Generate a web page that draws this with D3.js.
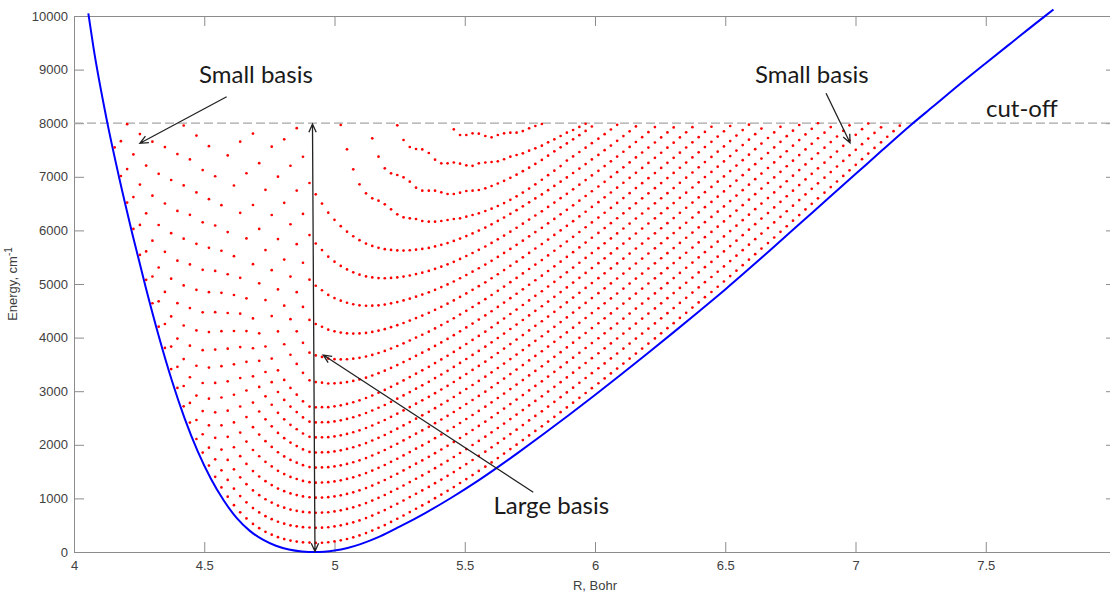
<!DOCTYPE html>
<html>
<head>
<meta charset="utf-8">
<script src="https://cdn.jsdelivr.net/npm/d3@7"></script>
<style>
  body { margin: 0; background: #fff; }
  svg text { font-family: "Liberation Sans", Arial, sans-serif; }
</style>
</head>
<body>
<div id="chart"></div>
<script>
// potential curve
const potR = [4.055, 4.075, 4.125, 4.175, 4.225, 4.275, 4.325, 4.375, 4.425, 4.475, 4.525, 4.575, 4.625, 4.675, 4.725, 4.775, 4.825, 4.875, 4.925,
  4.96, 5.0, 5.05, 5.1, 5.175, 5.25, 5.35, 5.45, 5.55, 5.623, 5.7, 5.8, 5.9, 6.0, 6.1, 6.2, 6.3, 6.4, 6.5, 6.6, 6.7, 6.8, 6.9, 7.0, 7.1, 7.216, 7.3, 7.4, 7.5, 7.6, 7.731, 7.76];
const potE = [10050, 9405, 8080, 6948, 5916, 4944, 4034, 3209, 2489, 1877, 1372, 960, 632, 394, 229, 117, 47, 11, 0,
  6, 27, 75, 147, 290, 472, 732, 1017, 1327, 1570, 1836, 2191, 2556, 2930, 3310, 3698, 4093, 4493, 4898, 5320, 5752, 6185, 6618, 7050, 7484, 7981, 8320, 8727, 9120, 9507, 10011, 10120];

// R grid of the basis (one column of dots per grid point)
const gridR = [4.156, 4.180, 4.204, 4.228, 4.253, 4.277, 4.301, 4.325, 4.349, 4.373,
  4.397, 4.421, 4.445, 4.470, 4.494, 4.518, 4.542, 4.566, 4.590, 4.614,
  4.638, 4.662, 4.687, 4.711, 4.735, 4.759, 4.783, 4.807, 4.831, 4.855,
  4.879, 4.904, 4.928, 4.952, 4.976, 5.000, 5.024, 5.048, 5.072, 5.096,
  5.121, 5.145, 5.169, 5.193, 5.217, 5.241, 5.265, 5.289, 5.313, 5.337,
  5.362, 5.386, 5.410, 5.434, 5.458, 5.482, 5.506, 5.530, 5.554, 5.579,
  5.603, 5.627, 5.651, 5.675, 5.699, 5.723, 5.747, 5.771, 5.796, 5.820,
  5.844, 5.868, 5.892, 5.916, 5.940, 5.964, 5.988, 6.013, 6.037, 6.061,
  6.085, 6.109, 6.133, 6.157, 6.181, 6.205, 6.230, 6.254, 6.278, 6.302,
  6.326, 6.350, 6.374, 6.398, 6.422, 6.447, 6.471, 6.495, 6.519, 6.543,
  6.567, 6.591, 6.615, 6.639, 6.664, 6.688, 6.712, 6.736, 6.760, 6.784,
  6.808, 6.832, 6.856, 6.881, 6.905, 6.929, 6.953, 6.977, 7.001, 7.025,
  7.049, 7.073, 7.098, 7.122, 7.146, 7.170];

// energy levels: first grid column of each level, then its energies column by column
const levelStart = [0, 1, 2, 4, 6, 8, 10, 11, 13, 15, 18, 20, 22, 25, 27, 29, 36, 41, 45, 54];

const level0 = [7548, 7015, 6519, 6028, 5542, 5078, 4641, 4204, 3808, 3412,
  3062, 2717, 2414, 2108, 1855, 1613, 1402, 1204, 1032, 874,
  740, 626, 524, 445, 377, 323, 276, 242, 213, 195,
  180, 175, 170, 173, 182, 197, 217, 243, 274, 310,
  353, 400, 451, 503, 562, 620, 681, 744, 807, 869,
  935, 1004, 1072, 1141, 1212, 1287, 1361, 1436, 1512, 1591,
  1672, 1753, 1836, 1920, 2003, 2088, 2174, 2259, 2345, 2433,
  2521, 2609, 2697, 2786, 2876, 2966, 3057, 3148, 3239, 3331,
  3423, 3515, 3608, 3702, 3795, 3889, 3985, 4080, 4175, 4270,
  4367, 4463, 4560, 4656, 4754, 4851, 4949, 5047, 5147, 5249,
  5351, 5453, 5556, 5660, 5764, 5868, 5973, 6077, 6181, 6286,
  6391, 6495, 6599, 6704, 6808, 6912, 7017, 7121, 7224, 7329,
  7434, 7539, 7643, 7747, 7851, 7954];
const level1 = [7665, 7144, 6622, 6103, 5608, 5140, 4676, 4254, 3832, 3455, 3097, 2781, 2463, 2197, 1947, 1729, 1524, 1345, 1182, 1044,
  926, 820, 739, 669, 613, 564, 529, 498, 479, 463, 457, 451, 454, 462,
  477, 497, 523, 554, 590, 633, 680, 731, 783, 842,
  900, 961, 1024, 1087, 1149, 1215, 1284, 1352, 1421, 1492,
  1567, 1641, 1716, 1792, 1871, 1952, 2033, 2116, 2200, 2283,
  2368, 2454, 2539, 2625, 2713, 2801, 2889, 2977, 3066, 3156,
  3246, 3337, 3428, 3519, 3611, 3703, 3795, 3888, 3982, 4075,
  4169, 4265, 4360, 4455, 4550, 4647, 4743, 4840, 4936, 5034,
  5131, 5229, 5327, 5427, 5529, 5631, 5733, 5836, 5940, 6044,
  6148, 6253, 6357, 6461, 6566, 6671, 6775, 6879, 6984, 7088,
  7192, 7297, 7401, 7504, 7609, 7714, 7819, 7923];
const level2 = [7982, 7418, 6855, 6318, 5809, 5308, 4852, 4395, 3982, 3600, 3260, 2919, 2630, 2363, 2130, 1910, 1717, 1542, 1394, 1265,
  1149, 1060, 984, 922, 866, 827, 791, 768, 748, 739, 732, 735, 742,
  757, 777, 803, 834, 870, 913, 960, 1011, 1063, 1122,
  1180, 1241, 1304, 1367, 1429, 1495, 1564, 1632, 1701, 1772,
  1847, 1921, 1996, 2072, 2151, 2232, 2313, 2396, 2480, 2563,
  2648, 2734, 2819, 2905, 2993, 3081, 3169, 3257, 3346, 3436,
  3526, 3617, 3708, 3799, 3891, 3983, 4075, 4168, 4262, 4355,
  4449, 4545, 4640, 4735, 4830, 4927, 5023, 5120, 5216, 5314,
  5411, 5509, 5607, 5707, 5809, 5911, 6013, 6116, 6220, 6324,
  6428, 6533, 6637, 6741, 6846, 6951, 7055, 7159, 7264, 7368,
  7472, 7577, 7681, 7784, 7889, 7994];
const level3 = [7797, 7209, 6647, 6101, 5601, 5100, 4642, 4226, 3850, 3475, 3153, 2861, 2605, 2363, 2148, 1954, 1788, 1643, 1509, 1409,
  1322, 1249, 1183, 1135, 1092, 1062, 1036, 1021, 1013, 1016, 1022,
  1037, 1057, 1083, 1114, 1150, 1193, 1240, 1291, 1343, 1402,
  1460, 1521, 1584, 1647, 1709, 1775, 1844, 1912, 1981, 2052,
  2127, 2201, 2276, 2352, 2431, 2512, 2593, 2676, 2760, 2843,
  2928, 3014, 3099, 3185, 3273, 3361, 3449, 3537, 3626, 3716,
  3806, 3897, 3988, 4079, 4171, 4263, 4355, 4448, 4542, 4635,
  4729, 4825, 4920, 5015, 5110, 5207, 5303, 5400, 5496, 5594,
  5691, 5789, 5887, 5987, 6089, 6191, 6293, 6396, 6500, 6604,
  6708, 6813, 6917, 7021, 7126, 7231, 7335, 7439, 7544, 7648,
  7752, 7857, 7961];
const level4 = [7655, 7055, 6502, 5949, 5436, 4974, 4551, 4133, 3766, 3441, 3154, 2882, 2637, 2418, 2229, 2061, 1903, 1786, 1683, 1596,
  1515, 1454, 1400, 1362, 1326, 1303, 1294, 1297, 1302,
  1317, 1337, 1363, 1394, 1430, 1473, 1520, 1571, 1623, 1682,
  1740, 1801, 1864, 1927, 1989, 2055, 2124, 2192, 2261, 2332,
  2407, 2481, 2556, 2632, 2711, 2792, 2873, 2956, 3040, 3123,
  3208, 3294, 3379, 3465, 3553, 3641, 3729, 3817, 3906, 3996,
  4086, 4177, 4268, 4359, 4451, 4543, 4635, 4728, 4822, 4915,
  5009, 5105, 5200, 5295, 5390, 5487, 5583, 5680, 5776, 5874,
  5971, 6069, 6167, 6267, 6369, 6471, 6573, 6676, 6780, 6884,
  6988, 7093, 7197, 7301, 7406, 7511, 7615, 7719, 7824, 7928];
const level5 = [7554, 6940, 6363, 5845, 5365, 4891, 4471, 4103, 3777, 3467, 3185, 2934, 2715, 2517, 2328, 2190, 2068, 1960, 1861, 1784,
  1717, 1666, 1619, 1585, 1575, 1578, 1582,
  1597, 1617, 1643, 1674, 1710, 1753, 1800, 1851, 1903, 1962,
  2020, 2081, 2144, 2207, 2269, 2335, 2404, 2472, 2541, 2612,
  2687, 2761, 2836, 2912, 2991, 3072, 3153, 3236, 3320, 3403,
  3488, 3574, 3659, 3745, 3833, 3921, 4009, 4097, 4186, 4276,
  4366, 4457, 4548, 4639, 4731, 4823, 4915, 5008, 5102, 5195,
  5289, 5385, 5480, 5575, 5670, 5767, 5863, 5960, 6056, 6154,
  6251, 6349, 6447, 6547, 6649, 6751, 6853, 6956, 7060, 7164,
  7268, 7373, 7477, 7581, 7686, 7791, 7895, 7999];
const level6 = [7424, 6840, 6290, 5750, 5265, 4847, 4474, 4119, 3793, 3502, 3246, 3013, 2787, 2621, 2475, 2344, 2221, 2124, 2041, 1976,
  1914, 1867, 1856, 1859, 1862,
  1877, 1897, 1923, 1954, 1990, 2033, 2080, 2131, 2183, 2242,
  2300, 2361, 2424, 2487, 2549, 2615, 2684, 2752, 2821, 2892,
  2967, 3041, 3116, 3192, 3271, 3352, 3433, 3516, 3600, 3683,
  3768, 3854, 3939, 4025, 4113, 4201, 4289, 4377, 4466, 4556,
  4646, 4737, 4828, 4919, 5011, 5103, 5195, 5288, 5382, 5475,
  5569, 5665, 5760, 5855, 5950, 6047, 6143, 6240, 6336, 6434,
  6531, 6629, 6727, 6827, 6929, 7031, 7133, 7236, 7340, 7444,
  7548, 7653, 7757, 7861, 7966];
const level7 = [7957, 7324, 6709, 6151, 5674, 5244, 4836, 4459, 4123, 3823, 3548, 3277, 3080, 2905, 2747, 2596, 2475, 2373, 2290, 2211,
  2149, 2137, 2140, 2142,
  2157, 2177, 2203, 2234, 2270, 2313, 2360, 2411, 2463, 2522,
  2580, 2641, 2704, 2767, 2829, 2895, 2964, 3032, 3101, 3172,
  3247, 3321, 3396, 3472, 3551, 3632, 3713, 3796, 3880, 3963,
  4048, 4134, 4219, 4305, 4393, 4481, 4569, 4657, 4746, 4836,
  4926, 5017, 5108, 5199, 5291, 5383, 5475, 5568, 5662, 5755,
  5849, 5945, 6040, 6135, 6230, 6327, 6423, 6520, 6616, 6714,
  6811, 6909, 7007, 7107, 7209, 7311, 7413, 7516, 7620, 7724,
  7828, 7933];
const level8 = [7770, 7125, 6583, 6091, 5620, 5182, 4795, 4446, 4121, 3801, 3567, 3358, 3168, 2985, 2837, 2713, 2610, 2511, 2431, 2418,
  2421, 2422,
  2437, 2457, 2483, 2514, 2550, 2593, 2640, 2691, 2743, 2802,
  2860, 2921, 2984, 3047, 3109, 3175, 3244, 3312, 3381, 3452,
  3527, 3601, 3676, 3752, 3831, 3912, 3993, 4076, 4160, 4243,
  4328, 4414, 4499, 4585, 4673, 4761, 4849, 4937, 5026, 5116,
  5206, 5297, 5388, 5479, 5571, 5663, 5755, 5848, 5942, 6035,
  6129, 6225, 6320, 6415, 6510, 6607, 6703, 6800, 6896, 6994,
  7091, 7189, 7287, 7387, 7489, 7591, 7693, 7796, 7900];
const level9 = [7572, 7010, 6471, 5968, 5519, 5115, 4733, 4357, 4079, 3834, 3609, 3389, 3210, 3061, 2935, 2812, 2713, 2699, 2702, 2702,
  2717, 2737, 2763, 2794, 2830, 2873, 2920, 2971, 3023, 3082,
  3140, 3201, 3264, 3327, 3389, 3455, 3524, 3592, 3661, 3732,
  3807, 3881, 3956, 4032, 4111, 4192, 4273, 4356, 4440, 4523,
  4608, 4694, 4779, 4865, 4953, 5041, 5129, 5217, 5306, 5396,
  5486, 5577, 5668, 5759, 5851, 5943, 6035, 6128, 6222, 6315,
  6409, 6505, 6600, 6695, 6790, 6887, 6983, 7080, 7176, 7274,
  7371, 7469, 7567, 7667, 7769, 7871, 7973];
const level10 = [7398, 6838, 6327, 5851, 5369, 5013, 4700, 4402, 4116, 3876, 3680, 3508, 3343, 3202, 3171, 3159, 3144,
  3147, 3155, 3171, 3192, 3219, 3253, 3293, 3336, 3382, 3435,
  3487, 3543, 3601, 3660, 3718, 3780, 3845, 3910, 3976, 4045,
  4117, 4189, 4262, 4336, 4413, 4492, 4572, 4653, 4736, 4818,
  4901, 4986, 5070, 5156, 5243, 5330, 5417, 5505, 5593, 5683,
  5772, 5863, 5953, 6044, 6135, 6227, 6319, 6411, 6505, 6598,
  6692, 6787, 6882, 6977, 7072, 7169, 7265, 7362, 7457, 7555,
  7652, 7750, 7848, 7948];
const level11 = [7655, 7066, 6474, 6028, 5633, 5257, 4898, 4595, 4344, 4118, 3903, 3718, 3668, 3640, 3609,
  3597, 3592, 3596, 3606, 3622, 3647, 3677, 3713, 3751, 3797,
  3843, 3893, 3946, 4000, 4053, 4111, 4172, 4234, 4296, 4361,
  4431, 4500, 4571, 4643, 4717, 4795, 4873, 4952, 5034, 5114,
  5197, 5280, 5363, 5447, 5534, 5620, 5707, 5793, 5881, 5970,
  6059, 6149, 6239, 6329, 6420, 6512, 6603, 6695, 6789, 6881,
  6975, 7070, 7165, 7260, 7354, 7451, 7547, 7643, 7739, 7837,
  7934];
const level12 = [7806, 7254, 6757, 6287, 5839, 5456, 5138, 4848, 4572, 4330, 4254, 4202, 4148,
  4117, 4094, 4080, 4075, 4077, 4087, 4106, 4130, 4158, 4194,
  4231, 4272, 4317, 4364, 4411, 4462, 4519, 4575, 4633, 4694,
  4759, 4825, 4892, 4960, 5032, 5107, 5182, 5260, 5339, 5417,
  5498, 5580, 5662, 5744, 5829, 5915, 6000, 6086, 6172, 6260,
  6348, 6438, 6527, 6617, 6707, 6798, 6889, 6981, 7074, 7166,
  7259, 7354, 7449, 7543, 7637, 7734, 7829, 7926];
const level13 = [7562, 7003, 6515, 6115, 5743, 5396, 5080, 4967, 4883, 4797,
  4737, 4688, 4650, 4622, 4603, 4594, 4595, 4603, 4616, 4639,
  4663, 4693, 4727, 4764, 4802, 4844, 4892, 4942, 4993, 5047,
  5107, 5168, 5230, 5294, 5362, 5433, 5505, 5579, 5655, 5730,
  5809, 5889, 5968, 6048, 6132, 6215, 6299, 6383, 6468, 6555,
  6642, 6730, 6819, 6907, 6997, 7087, 7177, 7269, 7361, 7453,
  7545, 7640, 7734, 7828, 7922];
const level14 = [7700, 7206, 6743, 6307, 5913, 5756, 5633, 5510,
  5417, 5337, 5271, 5217, 5174, 5141, 5122, 5111, 5107, 5113,
  5122, 5138, 5159, 5185, 5212, 5244, 5283, 5324, 5367, 5414,
  5468, 5522, 5578, 5637, 5700, 5766, 5834, 5904, 5977, 6049,
  6125, 6202, 6278, 6356, 6438, 6519, 6601, 6683, 6767, 6853,
  6938, 7025, 7112, 7200, 7289, 7378, 7467, 7558, 7649, 7740,
  7832, 7927];
const level15 = [7908, 7374, 6884, 6673, 6501, 6331,
  6197, 6078, 5977, 5891, 5817, 5755, 5711, 5675, 5650, 5635,
  5626, 5624, 5630, 5641, 5654, 5673, 5701, 5731, 5764, 5803,
  5848, 5894, 5944, 5996, 6052, 6113, 6176, 6241, 6310, 6378,
  6449, 6523, 6597, 6672, 6750, 6829, 6909, 6989, 7071, 7154,
  7238, 7324, 7409, 7496, 7583, 7671, 7760, 7849, 7940];
const level16 = [7966, 7513, 7140, 6860, 6692, 6598, 6554, 6487, 6394, 6300, 6244, 6226, 6213, 6175, 6163, 6163, 6175, 6194, 6213, 6226,
  6256, 6287, 6319, 6362, 6405, 6455, 6510, 6570, 6635, 6705, 6780, 6860, 6945, 7030, 7115, 7200,
  7302, 7381, 7463, 7544, 7628, 7712, 7796, 7882, 7969];
const level17 = [7718, 7375, 7159, 7065, 7034, 6991, 6909, 6797, 6741, 6741, 6741, 6711, 6679, 6679, 6703, 6735, 6741, 6754, 6785, 6828,
  6875, 6925, 6980, 7040, 7105, 7170, 7240, 7315, 7395, 7476, 7549, 7623, 7699, 7777, 7856, 7938];
const level18 = [7960, 7687, 7556, 7519, 7510, 7444, 7320, 7252, 7252, 7267, 7245, 7214,
  7205, 7252, 7267, 7276, 7289, 7327, 7375, 7407, 7438, 7487, 7532, 7580, 7644, 7700,
  7761, 7823, 7873, 7930, 7990];
const level19 = [7886, 7780, 7780, 7811, 7805, 7761, 7736, 7780, 7811, 7823, 7823, 7854, 7904, 7948, 7985];

const levels = [level0, level1, level2, level3, level4, level5, level6, level7, level8, level9,
  level10, level11, level12, level13, level14, level15, level16, level17, level18, level19];

const xTicks = [4, 4.5, 5, 5.5, 6, 6.5, 7, 7.5];
const yTicks = [0, 1000, 2000, 3000, 4000, 5000, 6000, 7000, 8000, 9000, 10000];
const cutOff = 8000;

// flat list of dots for d3
const dots = [];
levels.forEach(function(lv, n) {
  lv.forEach(function(e, i) {
    const r = gridR[levelStart[n] + i];
    if (r !== undefined) dots.push({ r: r, e: e });
  });
});

const margin = { top: 16, right: -6, bottom: 40, left: 74 },
    width = 1110 - margin.left - margin.right,
    height = 592 - margin.top - margin.bottom;

const svg = d3.select("#chart")
  .append("svg")
    .attr("width", 1110)
    .attr("height", 592);

const g = svg.append("g")
    .attr("transform", `translate(${margin.left}, ${margin.top})`);

const x = d3.scaleLinear().domain([4, 8]).range([0, width]);
const y = d3.scaleLinear().domain([0, 10000]).range([height, 0]);

const axisCol = "#8c8c8c", textCol = "#404040";

// box + inward ticks on all four sides, matlab style
g.append("g")
    .attr("transform", `translate(0, ${height})`)
    .call(d3.axisBottom(x).tickValues(xTicks).tickFormat(d3.format("")).tickSizeInner(-10).tickSizeOuter(0).tickPadding(9));
g.append("g")
    .call(d3.axisTop(x).tickValues(xTicks).tickFormat("").tickSizeInner(-10).tickSizeOuter(0));
g.append("g")
    .call(d3.axisLeft(y).tickValues(yTicks).tickFormat(d3.format("")).tickSizeInner(-10).tickSizeOuter(0).tickPadding(6));
g.append("g")
    .attr("transform", `translate(${width}, 0)`)
    .call(d3.axisRight(y).tickValues(yTicks).tickFormat("").tickSizeInner(-10).tickSizeOuter(0));

g.selectAll(".domain").attr("stroke", axisCol);
g.selectAll(".tick line").attr("stroke", axisCol);
g.selectAll(".tick text").attr("fill", textCol).style("font-size", "13px");

// axis titles
svg.append("text")
    .attr("x", margin.left + x(6))
    .attr("y", 590)
    .attr("text-anchor", "middle")
    .attr("fill", textCol)
    .style("font-size", "13px")
    .text("R, Bohr");

const ylab = svg.append("text")
    .attr("transform", `translate(17, ${margin.top + height / 2}) rotate(-90)`)
    .attr("text-anchor", "middle")
    .attr("fill", textCol)
    .style("font-size", "13px");
ylab.append("tspan").text("Energy, cm");
ylab.append("tspan").attr("dy", -5).style("font-size", "10px").text("-1");

// cut-off line
g.append("line")
    .attr("x1", 0).attr("x2", width)
    .attr("y1", y(cutOff)).attr("y2", y(cutOff))
    .attr("stroke", "#a6a6a6")
    .attr("stroke-width", 1.2)
    .attr("stroke-dasharray", "9,4");

// potential
const pot = potR.map((r, i) => [r, potE[i]]);
g.append("path")
    .datum(pot)
    .attr("fill", "none")
    .attr("stroke", "#0000ff")
    .attr("stroke-width", 2)
    .attr("d", d3.line().x(d => x(d[0])).y(d => y(d[1])).curve(d3.curveMonotoneX));

// basis energies
g.selectAll(".dot")
  .data(dots)
  .enter()
  .append("circle")
    .attr("class", "dot")
    .attr("cx", d => x(d.r))
    .attr("cy", d => y(d.e))
    .attr("r", 1.35)
    .attr("fill", "#ff0000");

// annotations (data coordinates)
const notes = [
  { text: "Small basis", at: [4.48, 8750] },
  { text: "Small basis", at: [6.614, 8750] },
  { text: "cut-off", at: [7.501, 8122] },
  { text: "Large basis", at: [5.61, 709] }
];
const arrows = [
  { from: [4.586, 8494], to: [4.253, 7625], both: false },
  { from: [6.887, 8558], to: [6.979, 7636], both: false },
  { from: [5.763, 1114], to: [4.957, 3675], both: false },
  { from: [4.925, 9], to: [4.9155, 7985], both: true }
];

g.selectAll(".note")
  .data(notes)
  .enter()
  .append("text")
    .attr("x", d => x(d.at[0]))
    .attr("y", d => y(d.at[1]))
    .attr("fill", "#1a1a1a")
    .style("font-family", "Lato, 'Open Sans', sans-serif")
    .style("font-size", "24px")
    .text(d => d.text);

function head(p, q) {
  // open arrow head at q, pointing from p
  const a = Math.atan2(q[1] - p[1], q[0] - p[0]), L = 9, w = 0.42;
  const l = [q[0] - L * Math.cos(a - w), q[1] - L * Math.sin(a - w)];
  const r = [q[0] - L * Math.cos(a + w), q[1] - L * Math.sin(a + w)];
  return `M${l[0]},${l[1]}L${q[0]},${q[1]}L${r[0]},${r[1]}`;
}

arrows.forEach(function(d) {
  const p = [x(d.from[0]), y(d.from[1])], q = [x(d.to[0]), y(d.to[1])];
  let path = `M${p[0]},${p[1]}L${q[0]},${q[1]}` + head(p, q);
  if (d.both) path += head(q, p);
  g.append("path")
    .attr("d", path)
    .attr("fill", "none")
    .attr("stroke", "#222")
    .attr("stroke-width", 1.3);
});
</script>
</body>
</html>
